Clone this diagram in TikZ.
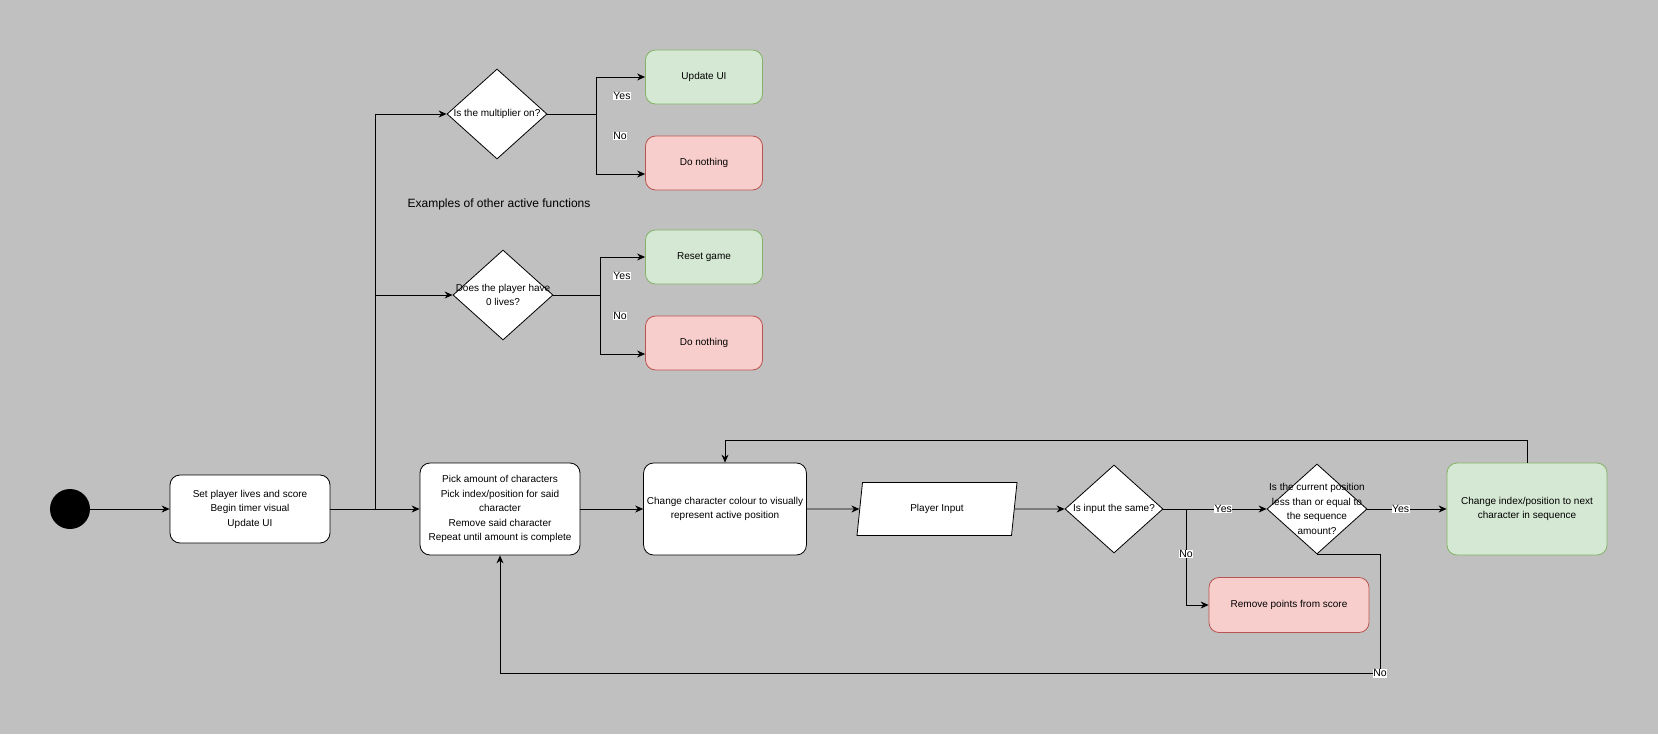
\documentclass[tikz,border=0pt]{standalone}
\usepackage{fontspec}
\setmainfont{Liberation Sans}
\usetikzlibrary{shapes.geometric,arrows.meta}
\definecolor{bggray}{HTML}{C0C0C0}
\definecolor{okfill}{HTML}{D5E8D4}
\definecolor{okline}{HTML}{82B366}
\definecolor{badfill}{HTML}{F8CECC}
\definecolor{badline}{HTML}{B85450}
\begin{document}
\begin{tikzpicture}[x=1pt, y=-1pt,
  every node/.style={font=\fontsize{10}{14.5}\selectfont, align=center},
  box/.style={draw, rounded corners=10pt, fill=white, line width=0.8pt, minimum width=160pt},
  okbox/.style={box, draw=okline, fill=okfill},
  badbox/.style={box, draw=badline, fill=badfill},
  decision/.style={diamond, draw, fill=white, line width=0.8pt, inner sep=0pt,
    minimum width=100pt, minimum height=90pt},
  io/.style={trapezium, trapezium left angle=71, trapezium right angle=109,
    trapezium stretches body, draw, fill=white, line width=0.8pt,
    minimum width=160pt, minimum height=53pt},
  start/.style={circle, fill=black, minimum size=40pt, inner sep=0pt},
  flow/.style={-{Stealth[length=8pt,width=7pt]}, line width=0.8pt},
  elabel/.style={fill=white, inner sep=0.5pt, font=\fontsize{10.5}{12}\selectfont}]
  \fill[bggray] (0,0) rectangle (1658,734);
  \useasboundingbox (0,0) rectangle (1658,734);

  \node[start] (st) at (70,509) {};
  \node[box, minimum height=68pt] (setup) at (250,509)
    {Set player lives and score\\Begin timer visual\\Update UI};
  \node[box, minimum height=92pt] (pick) at (500,509)
    {Pick amount of characters\\Pick index/position for said\\character\\Remove said character\\Repeat until amount is complete};
  \node[box, minimum height=92pt] (colour) at (725,509)
    {Change character colour to visually\\represent active position};
  \node[io] (input) at (937,509) {Player Input};
  \node[decision, minimum width=98pt, minimum height=88pt,
    label=center:Is input the same?] (same) at (1114,509) {};
  \node[decision, label={center:Is the current position\\less than or equal to\\the sequence\\amount?}] (inrange) at (1317,509) {};
  \node[okbox, minimum height=92pt] (next) at (1527,509)
    {Change index/position to next\\character in sequence};
  \node[badbox, minimum height=55pt] (penalty) at (1289,605) {Remove points from score};

  \node[decision, label=center:Is the multiplier on?] (multi) at (497,114) {};
  \node[okbox, minimum width=117pt, minimum height=54pt] (ui) at (704,77) {Update UI};
  \node[badbox, minimum width=117pt, minimum height=54pt] (idle1) at (704,163) {Do nothing};
  \node[font=\fontsize{12}{14}\selectfont] (examples) at (499,204) {Examples of other active functions};
  \node[decision, label={center:Does the player have\\0 lives?}] (lives) at (503,295) {};
  \node[okbox, minimum width=117pt, minimum height=54pt] (reset) at (704,257) {Reset game};
  \node[badbox, minimum width=117pt, minimum height=54pt] (idle2) at (704,343) {Do nothing};

  \node[elabel] (yes1) at (622,96) {Yes};
  \node[elabel] (no1) at (620,136) {No};
  \node[elabel] (yes2) at (622,276) {Yes};
  \node[elabel] (no2) at (620,316) {No};

  \coordinate (split) at (375,509);
  \coordinate (nosplit) at (1186,509);

  \draw[flow] (st) -- (setup);
  \draw[flow] (setup) -- (pick);
  \draw[flow] (split) |- (multi);
  \draw[flow] (split) |- (lives);
  \draw[flow] (multi.east) -- ++(49,0) |- (ui);
  \draw[flow] (multi.east) -- ++(49,0) |- ([yshift=-11pt]idle1.west);
  \draw[flow] (lives.east) -- ++(47,0) |- (reset);
  \draw[flow] (lives.east) -- ++(47,0) |- ([yshift=-11pt]idle2.west);
  \draw[flow] (pick) -- (colour);
  \draw[flow] (colour) -- (input);
  \draw[flow] (input) -- (same);
  \draw[flow] (same) -- node[elabel, pos=0.58] {Yes} (inrange);
  \draw[flow] (nosplit) -- node[elabel, pos=0.47] {No} (nosplit |- penalty) -- (penalty);
  \draw[flow] (inrange) -- node[elabel, pos=0.42] {Yes} (next);
  \draw[flow] (next.north) -- ++(0,-22) -| (colour.north);
  \draw[flow] (inrange.south) -- ++(63,0) -- ++(0,119) node[elabel] {No} -| (pick.south);
\end{tikzpicture}
\end{document}
